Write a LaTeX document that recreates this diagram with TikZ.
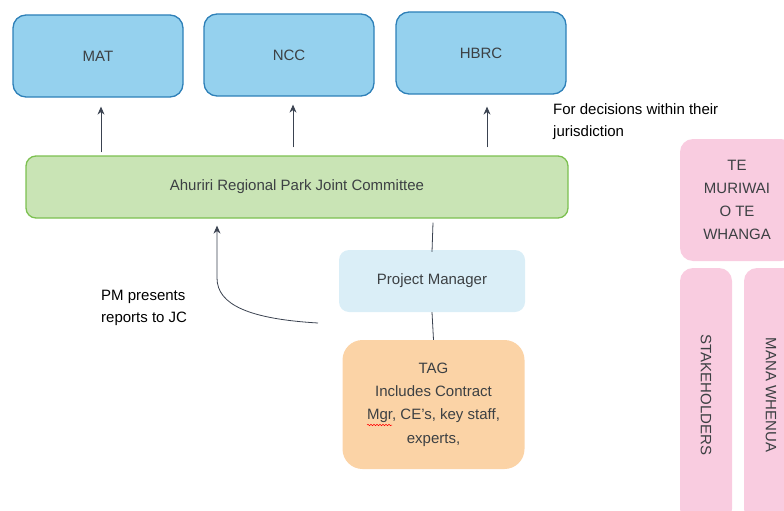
\documentclass[tikz,border=0pt]{standalone}
\usepackage{fontspec}
\setmainfont{Liberation Sans}
\usetikzlibrary{arrows.meta,decorations.pathmorphing}

\definecolor{bluefill}{HTML}{95D1EE}
\definecolor{blueline}{HTML}{2E80B8}
\definecolor{greenfill}{HTML}{C9E4B5}
\definecolor{greenline}{HTML}{7CC050}
\definecolor{pmfill}{HTML}{DAEEF7}
\definecolor{tagfill}{HTML}{FBD3A6}
\definecolor{pinkfill}{HTML}{F9CCE0}
\definecolor{textgrey}{HTML}{3C4043}
\definecolor{linegrey}{HTML}{3A4250}

\begin{document}
\begin{tikzpicture}[x=1pt,y=-1pt,>={Stealth[length=8pt,width=7pt]},
  council/.style={draw=blueline, line width=1.3pt, fill=bluefill, rounded corners=13pt,
    minimum width=170pt, minimum height=82pt, font=\fontsize{15}{18}\selectfont, text=textgrey},
  pinkbox/.style={fill=pinkfill, rounded corners=13pt, font=\fontsize{15}{23}\selectfont, text=textgrey},
  link/.style={draw=linegrey, line width=0.8pt}]
  \useasboundingbox (0,0) rectangle (784,511);
  \clip (0,0) rectangle (784,511);

  % Councils
  \node[council] (mat) at (98,56) {MAT};
  \node[council] (ncc) at (289,55) {NCC};
  \node[council] (hbrc) at (481,53) {HBRC};

  % Joint committee
  \node[draw=greenline, line width=1.3pt, fill=greenfill, rounded corners=10pt,
    minimum width=542pt, minimum height=62pt, font=\fontsize{15}{18}\selectfont, text=textgrey]
    (jc) at (297,187) {Ahuriri Regional Park Joint Committee};

  % Project manager and TAG
  \node[fill=pmfill, rounded corners=10pt, minimum width=186pt, minimum height=62pt,
    font=\fontsize{15}{18}\selectfont, text=textgrey] (pm) at (432,281) {Project Manager};
  \node[fill=tagfill, rounded corners=20pt, minimum width=182pt, minimum height=129pt,
    align=center, font=\fontsize{15}{23.3}\selectfont, text=textgrey]
    (tag) at (433.5,404.5) {TAG\\Includes Contract\\Mgr, CE’s, key staff,\\experts,};
  \draw[red, line width=0.5pt, decorate, decoration={snake,amplitude=0.7pt,segment length=3pt}]
    (367,425) -- (392,425);

  % Stakeholder groups
  \node[pinkbox, minimum width=114pt, minimum height=122pt, align=center]
    (tmotw) at (737,200) {TE\\MURIWAI\\O TE\\WHANGA};
  \node[pinkbox, minimum width=52pt, minimum height=254pt] (stake) at (706,395) {};
  \node[rotate=-90, font=\fontsize{15}{18}\selectfont, text=textgrey] at (stake) {STAKEHOLDERS};
  \node[pinkbox, minimum width=54pt, minimum height=254pt] (mana) at (771,395) {};
  \node[rotate=-90, font=\fontsize{15}{18}\selectfont, text=textgrey] at (mana) {MANA WHENUA};

  % Labels
  \node[anchor=north west, align=left, inner sep=0pt, font=\fontsize{15}{22}\selectfont]
    (dec) at (553,103) {For decisions within their\\jurisdiction};
  \node[anchor=north west, align=left, inner sep=0pt, font=\fontsize{15}{22}\selectfont]
    (rep) at (101,290) {PM presents\\reports to JC};

  % Arrows up to councils
  \draw[link,->,shorten <=3pt,shorten >=9pt] ([xshift=3pt]mat.south |- jc.north) -- ([xshift=3pt]mat.south);
  \draw[link,->,shorten <=8pt,shorten >=8pt] ([xshift=4pt]ncc.south |- jc.north) -- ([xshift=4pt]ncc.south);
  \draw[link,->,shorten <=8pt,shorten >=12pt] ([xshift=6pt]hbrc.south |- jc.north) -- ([xshift=6pt]hbrc.south);

  % Reporting lines
  \draw[link] ([xshift=136pt,yshift=-4pt]jc.south) -- ([yshift=-2pt]pm.north);
  \draw[link] (pm.south) -- (tag.north);
  \coordinate (pmout) at (318,323);
  \coordinate (bend) at (217,278);
  \draw[link,->,shorten >=7pt] (pmout) .. controls (250,319) and (217,305) .. (bend) -- (bend |- jc.south);
\end{tikzpicture}
\end{document}
